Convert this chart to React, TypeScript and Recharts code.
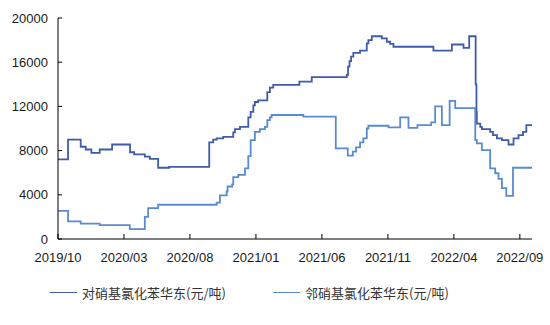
import { LineChart, Line, XAxis, YAxis, Legend } from 'recharts';

// x = months since 2019/10 (fractional), y = 元/吨
const pNitroX = [
  0, 0.76, 1.72, 2.1, 2.53, 3.16, 4.1, 5.46, 5.77, 6.58, 6.96, 7.59, 8.42, 11.46, 11.76, 12.02,
  12.52, 13.28, 13.41, 13.79, 14.42, 14.6, 14.8, 14.92, 15.17, 15.86, 16.06, 16.31, 18.29, 19.23,
  21.88, 21.98, 22.09, 22.21, 22.38, 22.89, 23.4, 23.52, 23.78, 24.54, 24.92, 25.17, 25.42, 28.45,
  29.85, 30.73, 31.16, 31.59, 31.65, 31.71, 31.74, 32.0, 32.12, 32.75, 32.96, 33.26, 33.64, 34.14,
  34.52, 34.9, 35.24, 35.49, 35.92,
];
const pNitroY = [
  7200, 9000, 8350, 8100, 7800, 8100, 8550, 7850, 7650, 7450, 7250, 6450, 6520, 8750, 9000, 9100,
  9250, 9650, 9950, 10150, 11000, 11500, 12100, 12400, 12550, 13300, 13700, 13950, 14250, 14650,
  14850, 15600, 16100, 16500, 16850, 17050, 17700, 18000, 18350, 18150, 17850, 17650, 17400, 17050,
  17600, 17300, 18350, 18350, 14000, 11500, 10450, 10150, 9950, 9700, 9400, 9100, 8950, 8550,
  9100, 9400, 9700, 10300, 10300,
];

const oNitroX = [
  0, 0.76, 1.72, 3.16, 5.44, 6.58, 6.83, 7.59, 12.02, 12.27, 12.78, 12.85, 13.2, 13.28, 13.66, 14.17,
  14.42, 14.6, 14.92, 15.3, 15.68, 15.86, 16.06, 16.19, 18.59, 21.05, 21.96, 22.34, 22.59, 22.89,
  23.14, 23.4, 23.52, 25.04, 25.93, 26.56, 27.24, 28.28, 28.58, 29.09, 29.68, 30.1, 31.62, 31.74,
  32.12, 32.75, 33.13, 33.38, 33.64, 33.97, 34.48, 35.92,
];
const oNitroY = [
  2550, 1600, 1400, 1250, 900, 2000, 2800, 3100, 3300, 3950, 4300, 4750, 4950, 5600, 5800, 6400,
  7500, 8950, 9700, 9950, 10150, 10750, 11000, 11220, 11070, 8200, 7550, 7900, 8300, 8750,
  9100, 10000, 10250, 10100, 11000, 10050, 10300, 10550, 12000, 10300, 12500, 11850, 8950, 8650,
  8050, 6400, 5950, 5450, 4600, 3900, 6450, 6450,
];

const xTicks = [0, 5, 10, 15, 20, 25, 30, 35];
const xTickLabels = ['2019/10', '2020/03', '2020/08', '2021/01', '2021/06', '2021/11', '2022/04', '2022/09'];
const yTicks = [0, 4000, 8000, 12000, 16000, 20000];

const pNitro = pNitroX.map((x, i) => ({ x, v: pNitroY[i] }));
const oNitro = oNitroX.map((x, i) => ({ x, v: oNitroY[i] }));

const darkBlue = '#3f5ca9';
const lightBlue = '#5a8bd0';
const axisFont = { fontSize: 13, fill: '#1a1a1a', fontFamily: '"Liberation Sans", Arial, sans-serif' };

function renderLegend(props: any) {
  const items = props.payload || [];
  return (
    <div style={{ display: 'flex', alignItems: 'center', height: 30, paddingLeft: 50 }}>
      {items.map((p: any) => (
        <div key={p.value} style={{ display: 'flex', alignItems: 'center', width: 223 }}>
          <span style={{ width: 27, height: 0, borderTop: `1.5px solid ${p.color}`, marginRight: 5 }} />
          <span style={{ fontSize: 13, color: '#333', fontFamily: '"Noto Sans CJK SC", sans-serif' }}>
            {p.value}
          </span>
        </div>
      ))}
    </div>
  );
}

export default function App() {
  return (
    <div style={{ position: 'absolute', left: 0, top: 0, background: '#fff' }}>
      <LineChart width={550} height={325} margin={{ top: 18, right: 18, left: 8, bottom: 18 }}>
        <XAxis
          dataKey="x"
          type="number"
          domain={[0, 35.92]}
          ticks={xTicks}
          tickFormatter={(v: number) => xTickLabels[xTicks.indexOf(v)] ?? ''}
          tick={axisFont}
          stroke="#000"
          tickSize={-5}
          tickMargin={19}
          height={38}
          allowDuplicatedCategory={false}
        />
        <YAxis
          type="number"
          domain={[0, 20000]}
          ticks={yTicks}
          tick={axisFont}
          stroke="#000"
          tickSize={-4}
          tickMargin={14}
          width={50}
        />
        <Legend
          verticalAlign="bottom"
          content={renderLegend}
          wrapperStyle={{ left: 0, width: 550 }}
        />
        <Line
          data={pNitro}
          dataKey="v"
          name="对硝基氯化苯华东(元/吨)"
          type="stepAfter"
          stroke={darkBlue}
          strokeWidth={1.8}
          dot={false}
          isAnimationActive={false}
        />
        <Line
          data={oNitro}
          dataKey="v"
          name="邻硝基氯化苯华东(元/吨)"
          type="stepAfter"
          stroke={lightBlue}
          strokeWidth={1.8}
          dot={false}
          isAnimationActive={false}
        />
      </LineChart>
    </div>
  );
}
